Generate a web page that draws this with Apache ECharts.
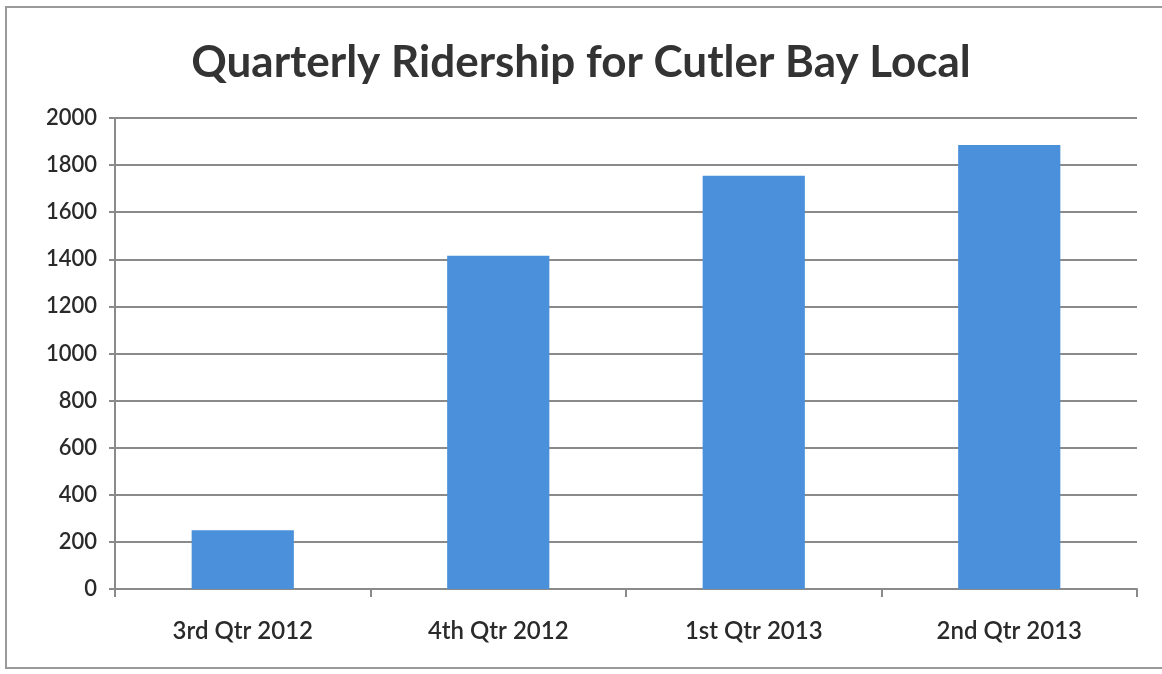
<!DOCTYPE html>
<html><head><meta charset="utf-8">
<script src="https://cdn.jsdelivr.net/npm/echarts@6/dist/echarts.min.js"></script>
<style>html,body{margin:0;padding:0;background:#fff}#c{width:1162px;height:674px}</style>
</head><body><div id="c"></div>
<script>
const categories = ['3rd Qtr 2012', '4th Qtr 2012', '1st Qtr 2013', '2nd Qtr 2013'];
const ridership = [250, 1415, 1755, 1885];
const titleText = 'Quarterly Ridership for Cutler Bay Local';

const chart = echarts.init(document.getElementById('c'));
chart.setOption({
  animation: false,
  backgroundColor: '#fff',
  title: {
    text: titleText, left: 'center', top: 36,
    textStyle: { fontFamily: 'Lato', fontWeight: 'bold', fontSize: 44, color: '#333' }
  },
  grid: { left: 115, right: 25, top: 118, bottom: 85 },
  graphic: [{ type: 'rect', shape: { x: 6, y: 7, width: 1170, height: 661 }, style: { fill: 'none', stroke: '#9a9a9a', lineWidth: 2 } }],
  xAxis: {
    type: 'category', data: categories, boundaryGap: true,
    axisLine: { lineStyle: { color: '#8a8a8a', width: 2 } },
    axisTick: { show: true, length: 8, alignWithLabel: false, lineStyle: { color: '#8a8a8a', width: 2 } },
    axisLabel: { margin: 30, fontFamily: 'Lato', fontWeight: 600, fontSize: 24, color: '#2a2a2a' }
  },
  yAxis: {
    type: 'value', min: 0, max: 2000, interval: 200,
    axisLine: { show: true, lineStyle: { color: '#8a8a8a', width: 2 } },
    axisTick: { show: true, length: 6, lineStyle: { color: '#8a8a8a', width: 2 } },
    splitLine: { lineStyle: { color: '#8a8a8a', width: 2 } },
    axisLabel: { margin: 18, fontFamily: 'Lato', fontWeight: 600, fontSize: 22, color: '#2a2a2a', formatter: v => String(v) }
  },
  series: [{
    type: 'bar', data: ridership, barWidth: '40%',
    itemStyle: { color: '#4a90da' }
  }]
});
</script></body></html>
